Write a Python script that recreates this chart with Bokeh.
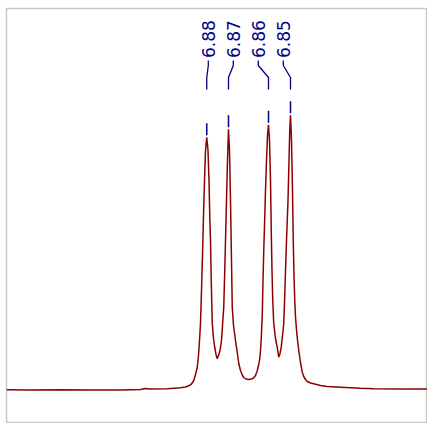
from bokeh.plotting import figure
from bokeh.models import Range1d, ColumnDataSource
from bokeh.embed import file_html
from bokeh.resources import INLINE
from bokeh.core.properties import value

# spectrum (chemical shift in ppm, intensity in arbitrary units)
ppm = [6.9635, 6.9539, 6.9419, 6.9299, 6.9179, 6.9099, 6.9079, 6.9059, 6.8992, 6.8939,
       6.8919, 6.8906, 6.8895, 6.8886, 6.8879, 6.8872, 6.8867, 6.8863, 6.8859, 6.8855,
       6.8851, 6.8847, 6.8843, 6.8839, 6.8834, 6.8829, 6.8825, 6.8822, 6.8819, 6.8816,
       6.8812, 6.8807, 6.8802, 6.8797, 6.8792, 6.8787, 6.8781, 6.8775, 6.8771, 6.8766,
       6.8762, 6.8759, 6.8755, 6.8751, 6.8747, 6.8743, 6.8739, 6.8735, 6.8732, 6.8727,
       6.8719, 6.8712, 6.8706, 6.8699, 6.8692, 6.8686, 6.8677, 6.8666, 6.8655, 6.8647,
       6.8639, 6.8633, 6.8626, 6.8622, 6.8619, 6.8616, 6.8612, 6.8609, 6.8606, 6.8603,
       6.8599, 6.8595, 6.8591, 6.8587, 6.8583, 6.8579, 6.8576, 6.8573, 6.8570, 6.8566,
       6.8559, 6.8552, 6.8546, 6.8541, 6.8536, 6.8531, 6.8526, 6.8522, 6.8519, 6.8515,
       6.8509, 6.8505, 6.8502, 6.8499, 6.8495, 6.8491, 6.8488, 6.8485, 6.8482, 6.8479,
       6.8473, 6.8466, 6.8459, 6.8452, 6.8446, 6.8439, 6.8432, 6.8419, 6.8406, 6.8379,
       6.8352, 6.8299, 6.8219, 6.8166, 6.8059, 6.7951]
intensity = [0.0, -0.2, 0.1, -0.2, -0.2, 0.3, 1.3, 0.7, 1.0, 2.0,
             2.8, 4.0, 5.8, 9.3, 15.3, 22.3, 34.3, 49.3, 66.3, 99.3,
             134.3, 174.3, 209.3, 239.3, 252.6, 239.3, 209.3, 174.3, 149.3, 109.3,
             66.3, 51.3, 42.3, 35.3, 31.0, 34.3, 39.3, 49.3, 64.3, 82.6,
             119.3, 149.3, 189.3, 229.3, 260.6, 239.3, 189.3, 129.3, 82.6, 64.3,
             49.3, 37.3, 26.3, 19.3, 14.8, 12.3, 10.8, 10.3, 10.8, 11.8,
             14.3, 18.3, 25.3, 31.3, 39.3, 51.3, 74.3, 109.3, 139.3, 164.3,
             199.3, 229.3, 254.3, 265.0, 249.3, 209.3, 159.3, 119.3, 89.3, 66.3,
             51.3, 42.3, 32.6, 36.3, 42.6, 54.3, 66.3, 94.3, 119.3, 149.3,
             189.3, 229.3, 259.3, 274.6, 249.3, 199.3, 149.3, 114.3, 89.3, 72.6,
             54.3, 39.3, 27.3, 17.6, 13.3, 10.3, 8.3, 6.8, 6.0, 4.3,
             3.3, 2.6, 1.5, 1.0, 0.8, 0.8]

peak_ppm = [6.8834, 6.8747, 6.8587, 6.8499]
peak_height = [252.6, 260.6, 265.0, 274.6]
peak_labels = ["6.88", "6.87", "6.86", "6.85"]

curve_color = "#8b0000"
label_color = "#00008b"

p = figure(width=427, height=423,
           x_range=Range1d(6.9635, 6.7951), y_range=Range1d(-32.7, 381.3),
           output_backend="svg", toolbar_location=None,
           min_border_left=6, min_border_right=0, min_border_top=8, min_border_bottom=1)
p.xaxis.visible = False
p.yaxis.visible = False
p.xgrid.visible = False
p.ygrid.visible = False
p.outline_line_color = "#c8c8c8"
p.outline_line_width = 1.5
p.background_fill_color = "white"
p.border_fill_color = "white"

p.line(ppm, intensity, line_color=curve_color, line_width=1.5)

# peak ticks
tick_x0 = peak_ppm
tick_y0 = [h + 2 for h in peak_height]
tick_y1 = [h + 14 for h in peak_height]
p.segment(x0=tick_x0, y0=tick_y0, x1=tick_x0, y1=tick_y1,
          line_color=label_color, line_width=1.5)

# label positions spread evenly around the multiplet centre
n = len(peak_ppm)
centre = sum(peak_ppm) / n + 0.0011
gap = 0.01
label_x = [centre + gap * ((n - 1) / 2 - i) for i in range(n)]

y_top, y_b1, y_b2, y_bot = 329.3, 324.3, 312.3, 300.3
xs = [[lx, lx, px, px] for lx, px in zip(label_x, peak_ppm)]
ys = [[y_top, y_b1, y_b2, y_bot] for _ in range(n)]
p.multi_line(xs, ys, line_color=label_color, line_width=1.3)

src = ColumnDataSource(dict(x=label_x, y=[331.8] * n, text=peak_labels))
p.text(x="x", y="y", text="text", source=src, angle=1.5707963,
       text_align="left", text_baseline="middle",
       text_font=value("DejaVu Sans"), text_font_size="17px",
       text_color=label_color)

open("out.html", "w").write(file_html(p, INLINE))
